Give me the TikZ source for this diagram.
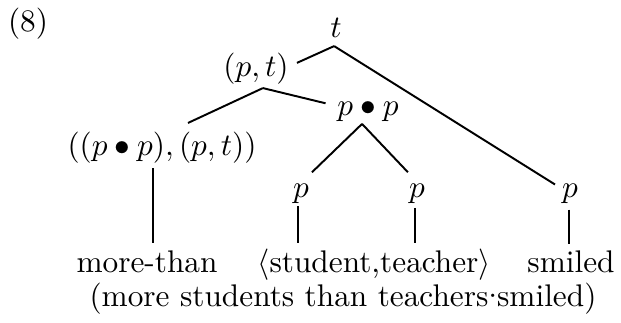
\documentclass[tikz,border=0pt]{standalone}
\usetikzlibrary{calc}
\begin{document}
\begin{tikzpicture}[x=0.3195pt,y=-0.3195pt,
  lbl/.style={inner sep=0pt,outer sep=0pt,anchor=base},
  edge/.style={line width=0.62pt}]
\useasboundingbox (0,0) rectangle (621,322);
% labels
\node[lbl] (ex) at (28,31.5) {(8)};
\node[lbl] (t)  at (336,37) {$t$};
\node[lbl] (pt) at (256,76.5) {$(p,t)$};
\node[lbl] (pp) at (368,115) {$p\bullet p$};
\node[lbl] (q)  at (162,155.5) {$((p\bullet p),(p,t))$};
\node[lbl] (p1) at (301,197) {$p$};
\node[lbl] (p2) at (417,197) {$p$};
\node[lbl] (p3) at (570,197) {$p$};
\node[lbl] (mt) at (147,272) {more-than};
\node[lbl] (st) at (374,272) {$\langle$student,teacher$\rangle$};
\node[lbl] (sm) at (571,272) {smiled};
\node[lbl] (gl) at (343,306) {(more students than teachers\hbox to 2.8pt{\hss\raisebox{-0.3pt}{\textperiodcentered}\hss}smiled)};
% tree edges
\draw[edge] ([xshift=-0.6pt,yshift=-2.9pt]t.south) -- ([xshift=2.65pt,yshift=-3.15pt]pt.north east);
\draw[edge] ([xshift=-0.6pt,yshift=-2.9pt]t.south) -- ([xshift=-4.8pt,yshift=-0.3pt]p3.north);
\draw[edge] ([xshift=2.2pt,yshift=-1.2pt]pt.south) -- ([xshift=8.3pt,yshift=2.9pt]q.north);
\draw[edge] ([xshift=2.2pt,yshift=-1.2pt]pt.south) -- ([xshift=-3.8pt,yshift=-0.7pt]pp.north west);
\draw[edge] ([xshift=-1.9pt,yshift=-0.9pt]pp.south) -- ([xshift=3.5pt,yshift=3.6pt]p1.north);
\draw[edge] ([xshift=-1.9pt,yshift=-0.9pt]pp.south) -- ([xshift=-2.9pt,yshift=3.6pt]p2.north);
% vertical edges to the words
\draw[edge] ($(q.south)+(-3pt,-1.5pt)$) -- ($(q.south |- mt.north)+(-3pt,2.3pt)$);
\draw[edge] ($(p1.south)+(-1pt,-1pt)$) -- ($(p1.south |- st.north)+(-1pt,1.8pt)$);
\draw[edge] ($(p2.south)+(-0.6pt,-1.5pt)$) -- ($(p2.south |- st.north)+(-0.6pt,1.8pt)$);
\draw[edge] ($(p3.south)+(-0.3pt,-2.1pt)$) -- ($(p3.south |- sm.north)+(-0.3pt,2pt)$);
\end{tikzpicture}
\end{document}
